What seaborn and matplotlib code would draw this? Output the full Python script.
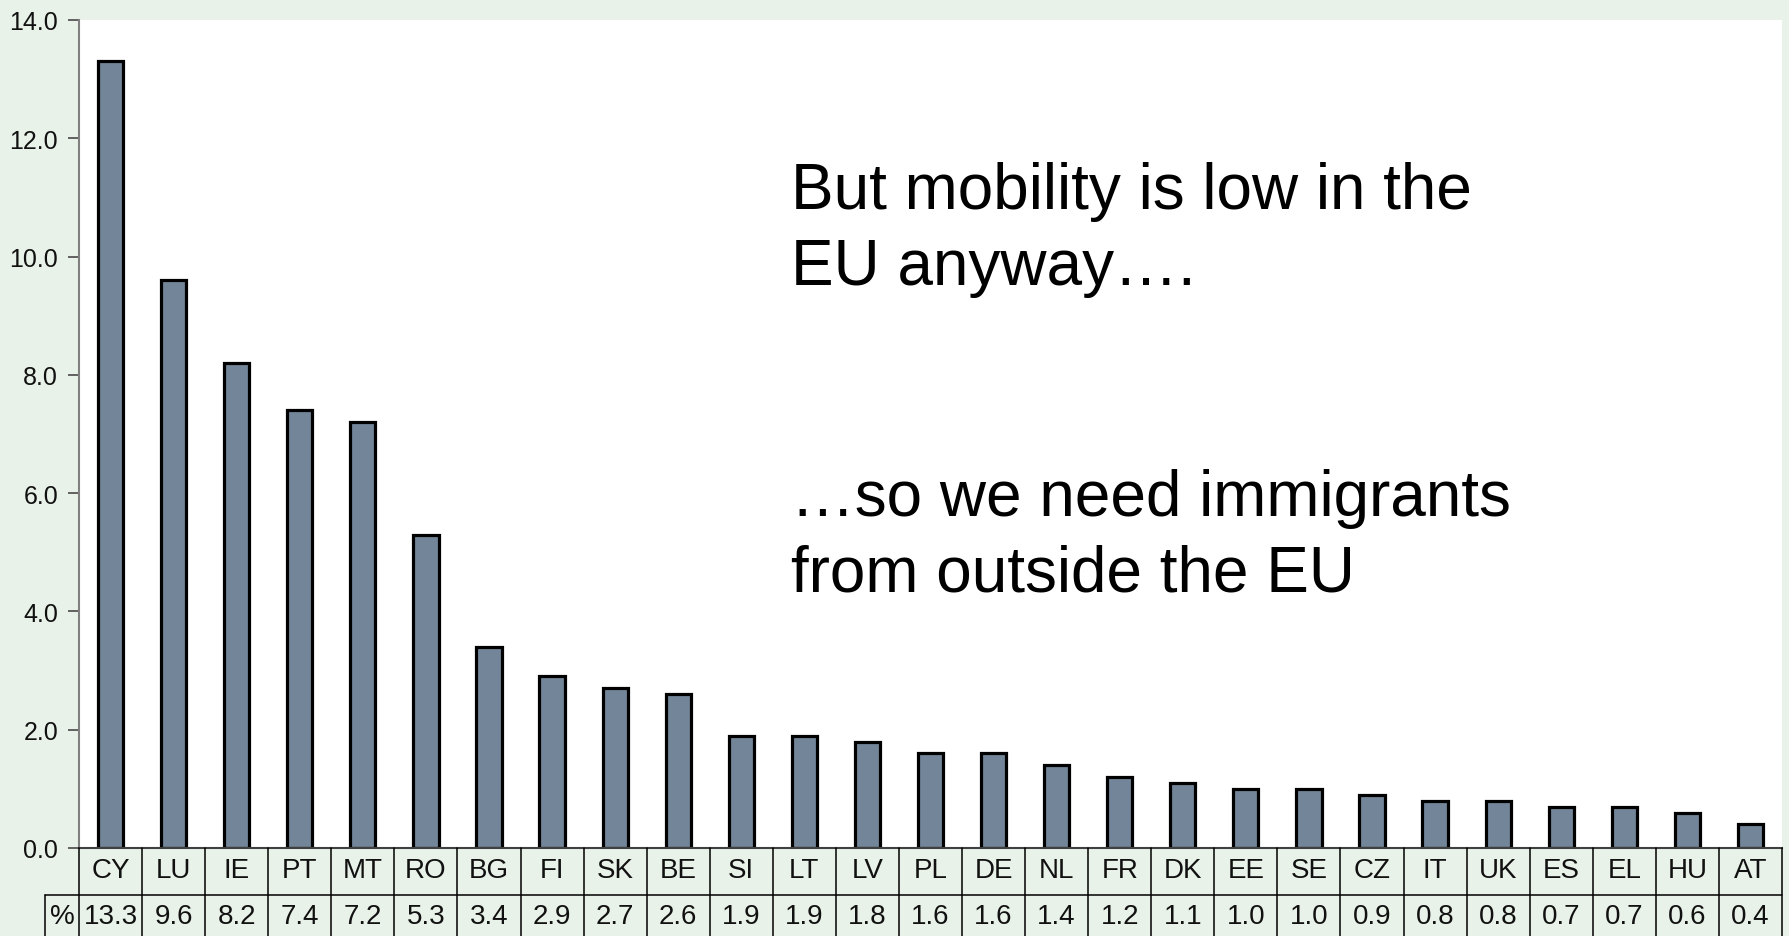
import matplotlib
matplotlib.use("Agg")
import matplotlib.pyplot as plt
from matplotlib.lines import Line2D
from matplotlib.transforms import blended_transform_factory
import seaborn as sns
import pandas as pd

# Share of working-age citizens living in another EU member state (%)
countries = ["CY", "LU", "IE", "PT", "MT", "RO", "BG", "FI", "SK", "BE", "SI", "LT", "LV", "PL",
             "DE", "NL", "FR", "DK", "EE", "SE", "CZ", "IT", "UK", "ES", "EL", "HU", "AT"]
values = [13.3, 9.6, 8.2, 7.4, 7.2, 5.3, 3.4, 2.9, 2.7, 2.6, 1.9, 1.9, 1.8, 1.6,
          1.6, 1.4, 1.2, 1.1, 1.0, 1.0, 0.9, 0.8, 0.8, 0.7, 0.7, 0.6, 0.4]
yticks = [0, 2, 4, 6, 8, 10, 12, 14]
row_label = "%"
message_top = ["But mobility is low in the", "EU anyway…."]
message_bottom = ["…so we need immigrants", "from outside the EU"]

df = pd.DataFrame({"country": countries, "share": values})

sns.set_theme(style="white")
plt.rcParams["font.family"] = ["Liberation Sans", "DejaVu Sans"]

BG = "#E9F2E9"
BAR = "#738699"

W, H = 1789, 937
fig = plt.figure(figsize=(W / 100, H / 100), dpi=100, facecolor=BG)

left_px, right_px, top_px, base_px = 79, 1782, 21, 849
ax = fig.add_axes([left_px / W, (H - base_px) / H, (right_px - left_px) / W, (base_px - top_px) / H])
ax.set_facecolor("white")

sns.barplot(data=df, x="country", y="share", color=BAR, saturation=1,
            edgecolor="black", linewidth=2.3, width=0.4, ax=ax)

ax.set_xlim(-0.5, len(countries) - 0.5)
ax.set_ylim(0, 14)
ax.set_yticks(yticks)
ax.set_yticklabels([f"{v:.1f}" for v in yticks], fontsize=18, color="#111111")
ax.tick_params(axis="y", left=True, length=8, width=1.3, color="#555555", pad=7)
ax.set_xticks([])
ax.set_xlabel("")
ax.set_ylabel("")
for side in ("top", "right"):
    ax.spines[side].set_visible(False)
ax.spines["left"].set_color("#808080")
ax.spines["left"].set_linewidth(1.5)
ax.spines["bottom"].set_color("#404040")
ax.spines["bottom"].set_linewidth(1.5)

# Data table under the axis: country codes and values
tr = blended_transform_factory(ax.transData, fig.transFigure)
y_top = (H - base_px) / H
y_mid = (H - 896) / H
y_bot = 0.0
x0 = -0.5
x_end = len(countries) - 0.5
x_label_left = x0 - (left_px - 45) / ((right_px - left_px) / len(countries))

lw = 1.1
fig.add_artist(Line2D([x_label_left, x_end], [y_mid, y_mid], transform=tr, color="black", lw=lw))
for k in range(len(countries) + 1):
    fig.add_artist(Line2D([x0 + k, x0 + k], [y_bot, y_top], transform=tr, color="black", lw=lw))
fig.add_artist(Line2D([x_label_left, x_label_left], [y_bot, y_mid], transform=tr, color="black", lw=lw))

for i, (c, v) in enumerate(zip(countries, values)):
    fig.text(i, (H - 871) / H, c, transform=tr, ha="center", va="center", fontsize=20, color="#111111")
    fig.text(i, (H - 917) / H, f"{v:.1f}", transform=tr, ha="center", va="center", fontsize=20, color="#111111")
fig.text((x_label_left + x0) / 2, (H - 917) / H, row_label, transform=tr, ha="center", va="center",
         fontsize=20, color="#111111")

# Message text
tx = 791 / W
for line, base in zip(message_top + message_bottom, [209, 285, 516, 592]):
    fig.text(tx, (H - base) / H, line, ha="left", va="baseline", fontsize=46, color="black")

fig.savefig("out.png", dpi=100, facecolor=BG)
